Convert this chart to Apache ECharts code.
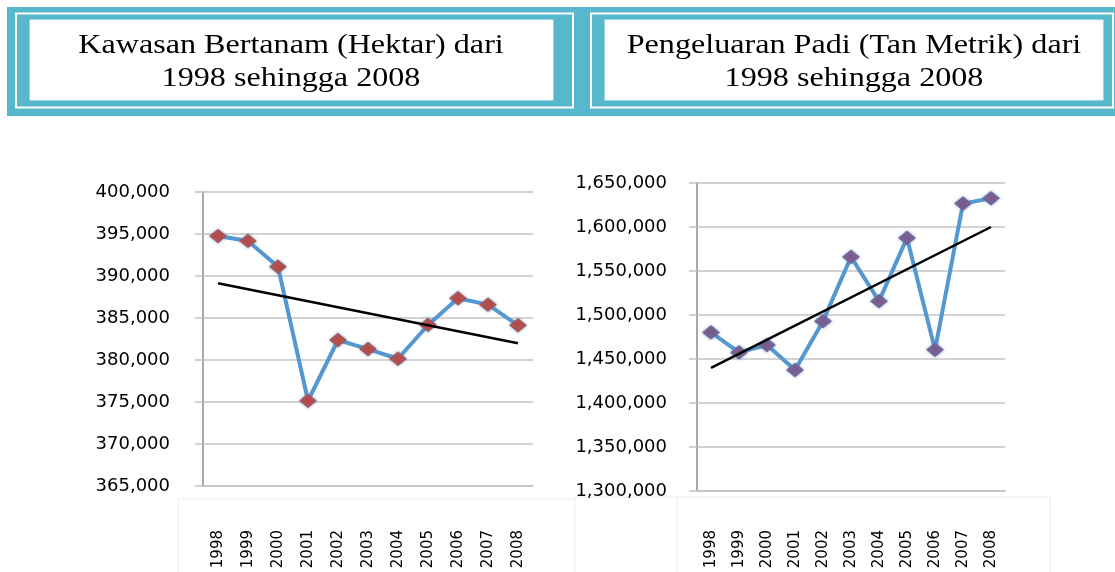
<!DOCTYPE html>
<html>
<head>
<meta charset="utf-8">
<script src="https://cdn.jsdelivr.net/npm/echarts@6/dist/echarts.min.js"></script>
<style>
  html, body { margin: 0; padding: 0; background: #fff; }
  #chart { width: 1115px; height: 572px; }
</style>
</head>
<body>
<div id="chart"></div>
<script>
let years = ["1998", "1999", "2000", "2001", "2002", "2003", "2004", "2005", "2006", "2007", "2008"];
let kawasan = [394760, 394170, 391100, 375150, 382380, 381300, 380150, 384170, 387350, 386590, 384130];
let kawasanTrend = [389130, 382000];
let padi = [1480200, 1457500, 1465800, 1437400, 1493000, 1566000, 1515700, 1587600, 1460400, 1626600, 1632600];
let padiTrend = [1440000, 1600000];
let titleKawasan = ["Kawasan Bertanam (Hektar) dari", "1998 sehingga 2008"];
let titlePadi = ["Pengeluaran Padi (Tan Metrik) dari", "1998 sehingga 2008"];

let teal = "#57b8cd";
let gridColor = "#c4c4c4";

function commas(v) {
  return String(v).replace(/\B(?=(\d{3})+(?!\d))/g, ",");
}

function frame(x, w, innerX, innerW) {
  return [
    { type: "rect", shape: { x: x, y: 7, width: w, height: 109 }, style: { fill: teal } },
    { type: "rect", shape: { x: x + 9, y: 13.5, width: w - 18, height: 94 }, style: { fill: null, stroke: "#fff", lineWidth: 2 } },
    { type: "rect", shape: { x: innerX, y: 20, width: innerW, height: 80 }, style: { fill: "#fff", stroke: "#e9f6f9", lineWidth: 1 } }
  ];
}

// the source picture is stretched sideways, so the serif titles get a scaleX
function titleText(lines, cx) {
  return lines.map((t, i) => ({
    type: "text",
    x: cx, y: 46 + i * 33, scaleX: 1.19,
    style: { text: t, font: "27px 'Liberation Serif'", fill: "#000", textAlign: "center", textVerticalAlign: "middle" }
  }));
}

function yAxis(idx, min, max, step, margin) {
  return {
    type: "value", gridIndex: idx, min: min, max: max, interval: step,
    axisLine: { show: true, lineStyle: { color: "#a8a8a8", width: 2 } },
    axisTick: { show: true, length: 8, lineStyle: { color: gridColor, width: 1.5 } },
    splitLine: { lineStyle: { color: gridColor, width: 1.5 } },
    axisLabel: { margin: margin, color: "#000", fontFamily: "DejaVu Sans", fontSize: 18, formatter: commas }
  };
}

function xAxis(idx, margin) {
  return {
    type: "category", gridIndex: idx, data: years, boundaryGap: true,
    axisLine: { lineStyle: { color: gridColor, width: 1.5 } },
    axisTick: { show: false },
    axisLabel: { rotate: 90, margin: margin, color: "#000", fontFamily: "DejaVu Sans", fontSize: 15, interval: 0 }
  };
}

function mainSeries(idx, data, markColor) {
  return {
    type: "line", xAxisIndex: idx, yAxisIndex: idx, data: data,
    symbol: "diamond", symbolSize: [16, 13],
    lineStyle: { color: "#5597cf", width: 4 },
    itemStyle: { color: markColor, borderColor: markColor, shadowBlur: 3, shadowColor: "rgba(79,147,204,0.8)" },
    z: 2
  };
}

function trendSeries(idx, ends) {
  return {
    type: "line", xAxisIndex: idx, yAxisIndex: idx,
    data: [[years[0], ends[0]], [years[years.length - 1], ends[1]]],
    symbol: "none", lineStyle: { color: "#000", width: 2.5 }, z: 3
  };
}

let chart = echarts.init(document.getElementById("chart"));
chart.setOption({
  animation: false,
  backgroundColor: "#fff",
  grid: [
    { left: 203, right: 582, top: 192, bottom: 86 },
    { left: 697, right: 110, top: 183, bottom: 81 }
  ],
  xAxis: [xAxis(0, 44), xAxis(1, 39)],
  yAxis: [yAxis(0, 365000, 400000, 5000, 33), yAxis(1, 1300000, 1650000, 50000, 30)],
  series: [
    mainSeries(0, kawasan, "#b84a44"),
    trendSeries(0, kawasanTrend),
    mainSeries(1, padi, "#7c5a8c"),
    trendSeries(1, padiTrend)
  ],
  graphic: [].concat(
    frame(7, 575, 30, 523),
    frame(582, 540, 605, 498),
    titleText(titleKawasan, 291),
    titleText(titlePadi, 854),
    [
      { type: "rect", silent: true, shape: { x: 178, y: 499, width: 397, height: 80 }, style: { fill: null, stroke: "#ececec", lineWidth: 1 } },
      { type: "rect", silent: true, shape: { x: 677, y: 497, width: 373, height: 80 }, style: { fill: null, stroke: "#ececec", lineWidth: 1 } },
      { type: "line", silent: true, shape: { x1: 573, y1: 497, x2: 677, y2: 497 }, style: { stroke: "#ececec", lineWidth: 1 } }
    ]
  )
});
</script>
</body>
</html>
